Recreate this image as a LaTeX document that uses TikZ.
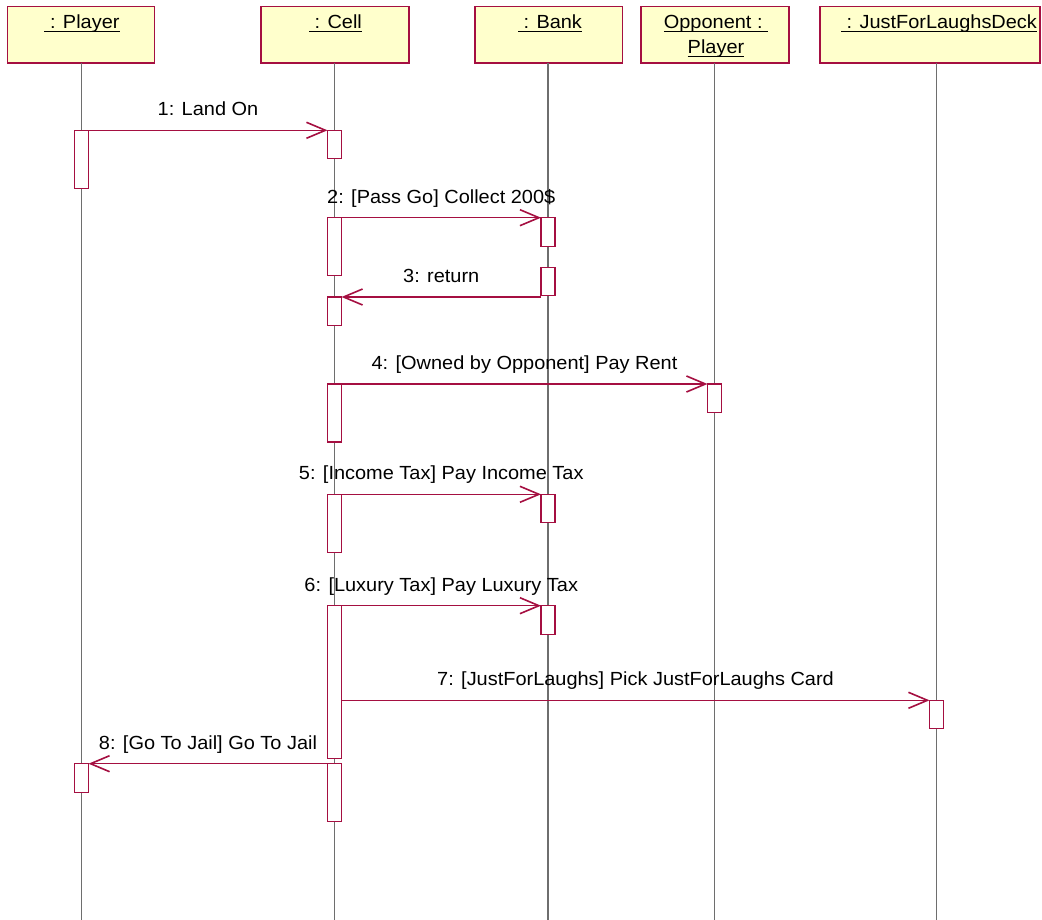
\documentclass[tikz,border=0pt]{standalone}
\usepackage{fontspec}
\setmainfont{Liberation Sans}[FakeStretch=1.05]
\usetikzlibrary{arrows.meta}

\definecolor{rose}{RGB}{165,15,65}
\definecolor{objfill}{RGB}{255,255,204}
\definecolor{lifegray}{RGB}{110,110,110}

% underlined object name (underline sits just below the baseline)
\newcommand\hdrul[1]{\setbox0=\hbox{#1}\rlap{\rule[-3.6pt]{\wd0}{1.4pt}}\box0}

\begin{document}
\begin{tikzpicture}[x=1pt,y=-1pt,
  every node/.style={font=\fontsize{19}{25}\selectfont, inner sep=0pt, outer sep=0pt},
  obj/.style={draw=rose, fill=objfill, line width=1.6pt, anchor=north west,
              minimum height=56.6pt},
  hdr/.style={anchor=base},
  life/.style={draw=lifegray, line width=1.4pt},
  act/.style={draw=rose, fill=white, line width=1.3pt, anchor=north,
              minimum width=14pt},
  msg/.style={draw=rose, line width=1.3pt,
              -{Straight Barb[length=19pt,width=16pt,line width=1.6pt]}},
  lbl/.style={anchor=base, yshift=14.5pt, text=black}
]
\useasboundingbox (0,0) rectangle (1042,920);
\coordinate (bot) at (0,920);

% object headers
\node[obj, minimum width=147pt] (player) at (7.5,6.7) {};
\node[obj, minimum width=148pt] (cell)   at (261,6.7) {};
\node[obj, minimum width=147.5pt] (bank) at (474.8,6.7) {};
\node[obj, minimum width=148pt] (opp)    at (641,6.7) {};
\node[obj, minimum width=220pt] (deck)   at (820,6.7) {};

\node[hdr] (playerT) at (82,28.7)  {\hdrul{\ : Player}};
\node[hdr] (cellT)   at (335.5,28.7) {\hdrul{\ : Cell}};
\node[hdr] (bankT)   at (550,28.7) {\hdrul{\ : Bank}};
\node[hdr] (oppT)    at (716,28.7) {\hdrul{Opponent :\ }};
\node[hdr] (oppT2)   at (716,53.7) {\hdrul{Player}};
\node[hdr] (deckT)   at (939,28.7) {\hdrul{\ : JustForLaughsDeck}};

% lifelines
\coordinate (lP) at (81.5,0);
\coordinate (lC) at (334.5,0);
\coordinate (lB) at (548,0);
\coordinate (lO) at (714.5,0);
\coordinate (lJ) at (936.5,0);
\draw[life] (lP |- player.south) -- (lP |- bot);
\draw[life] (lC |- cell.south)   -- (lC |- bot);
\draw[life] (lB |- bank.south)   -- (lB |- bot);
\draw[life] (lO |- opp.south)    -- (lO |- bot);
\draw[life] (lJ |- deck.south)   -- (lJ |- bot);

% activation bars
\node[act, minimum height=58pt]    (pa1) at (81.5,130.3) {};
\node[act, minimum height=28.5pt]  (ca1) at (334.5,130.3) {};
\node[act, minimum height=58pt]    (ca2) at (334.5,217.7) {};
\node[act, minimum height=28.5pt]  (ba1) at (548,217.7) {};
\node[act, minimum height=28.5pt]  (ba2) at (548,267.3) {};
\node[act, minimum height=28.5pt]  (ca3) at (334.5,297) {};
\node[act, minimum height=58pt]    (ca4) at (334.5,384) {};
\node[act, minimum height=28.5pt]  (oa)  at (714.5,384) {};
\node[act, minimum height=58pt]    (ca5) at (334.5,494.3) {};
\node[act, minimum height=28.5pt]  (ba3) at (548,494.3) {};
\node[act, minimum height=152.6pt] (ca6) at (334.5,605.7) {};
\node[act, minimum height=28.5pt]  (ba4) at (548,605.7) {};
\node[act, minimum height=28.5pt]  (ja)  at (936.5,700.3) {};
\node[act, minimum height=58pt]    (ca7) at (334.5,763.7) {};
\node[act, minimum height=28.5pt]  (pa2) at (81.5,763.7) {};

% messages
\draw[msg] (pa1.north east) -- node[lbl] (m1) {1: Land On} (ca1.north west);
\draw[msg] (ca2.north east) -- node[lbl] (m2) {2: [Pass Go] Collect 200\$} (ba1.north west);
\draw[msg] (ba2.west |- ca3.north) -- node[lbl] (m3) {3: return} (ca3.north east);
\draw[msg] (ca4.north east) -- node[lbl] (m4) {4: [Owned by Opponent] Pay Rent} (oa.north west);
\draw[msg] (ca5.north east) -- node[lbl] (m5) {5: [Income Tax] Pay Income Tax} (ba3.north west);
\draw[msg] (ca6.north east) -- node[lbl] (m6) {6: [Luxury Tax] Pay Luxury Tax} (ba4.north west);
\draw[msg] (ca6.east |- ja.north) -- node[lbl] (m7) {7: [JustForLaughs] Pick JustForLaughs Card} (ja.north west);
\draw[msg] (ca7.north west) -- node[lbl] (m8) {8: [Go To Jail] Go To Jail} (pa2.north east);
\end{tikzpicture}
\end{document}
